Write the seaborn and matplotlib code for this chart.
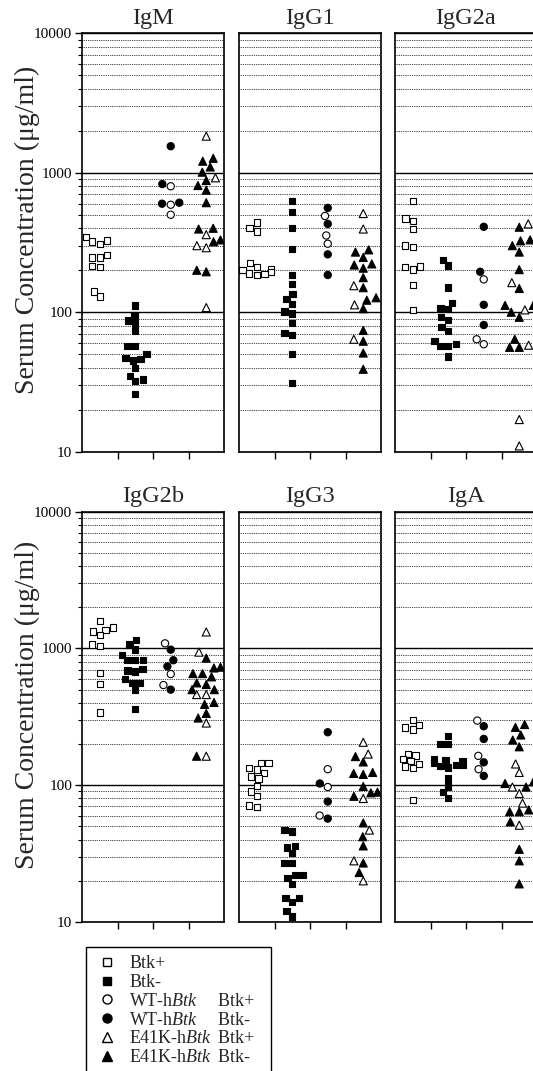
import warnings
warnings.filterwarnings("ignore")
import numpy as np
import pandas as pd
import matplotlib
matplotlib.use("Agg")
import matplotlib.pyplot as plt
import seaborn as sns
from matplotlib.ticker import FixedLocator, LogLocator, NullFormatter, FuncFormatter
from matplotlib.lines import Line2D

# ---------------- data (µg/ml) ----------------
panels = ["IgM", "IgG1", "IgG2a", "IgG2b", "IgG3", "IgA"]

igm_btk_pos = [326, 345, 310, 322, 247, 247, 258, 215, 210, 141, 130]
igm_btk_neg = [112, 95, 87, 84, 74, 57, 57, 50, 47, 46, 45, 40, 35, 33, 32, 26]
igm_wt_pos = [800, 590, 500]
igm_wt_neg = [1550, 830, 600, 610]
igm_e41k_pos = [1830, 920, 360, 300, 290, 108]
igm_e41k_neg = [1270, 1210, 1100, 1010, 880, 810, 750, 610, 400, 395, 330, 320, 195, 200]

igg1_btk_pos = [440, 400, 380, 225, 210, 205, 200, 200, 195, 190, 188, 185]
igg1_btk_neg = [630, 525, 400, 285, 185, 160, 135, 125, 115, 98, 101, 84, 71, 69, 50, 31]
igg1_wt_pos = [490, 355, 310]
igg1_wt_neg = [560, 430, 260, 185]
igg1_e41k_pos = [510, 395, 155, 113, 64]
igg1_e41k_neg = [270, 280, 247, 218, 222, 207, 177, 150, 122, 127, 106, 74, 62, 51, 39]

igg2a_btk_pos = [630, 470, 450, 395, 295, 300, 210, 213, 202, 157, 104]
igg2a_btk_neg = [236, 216, 150, 117, 107, 105, 92, 88, 78, 73, 59, 62, 57, 57, 48]
igg2a_wt_pos = [172, 64, 59]
igg2a_wt_neg = [410, 195, 113, 81]
igg2a_e41k_pos = [430, 163, 104, 58, 17, 11]
igg2a_e41k_neg = [407, 330, 325, 300, 270, 202, 148, 112, 112, 100, 92, 64, 56, 56]

igg2b_btk_pos = [1590, 1420, 1360, 1330, 1250, 1070, 1040, 660, 550, 340]
igg2b_btk_neg = [1150, 1070, 980, 900, 820, 820, 820, 710, 690, 680, 600, 560, 560, 500, 360]
igg2b_wt_pos = [1090, 650, 540]
igg2b_wt_neg = [980, 820, 740, 500]
igg2b_e41k_pos = [1320, 940, 460, 460, 285, 163]
igg2b_e41k_neg = [850, 730, 720, 655, 620, 655, 560, 545, 500, 500, 403, 390, 335, 310, 163]

igg3_btk_pos = [145, 145, 133, 130, 123, 116, 112, 99, 90, 83, 71, 69]
igg3_btk_neg = [47, 46, 36, 35, 32, 27, 27, 22, 22, 21, 19, 15, 15, 14, 12, 11]
igg3_wt_pos = [131, 97, 60]
igg3_wt_neg = [244, 103, 76, 57]
igg3_e41k_pos = [206, 169, 80, 47, 28, 20]
igg3_e41k_neg = [162, 148, 124, 120, 122, 98, 89, 83, 88, 53, 42, 36, 27, 23]

iga_btk_pos = [300, 275, 265, 255, 170, 165, 155, 150, 143, 137, 133, 78]
iga_btk_neg = [228, 200, 200, 150, 152, 155, 145, 142, 138, 140, 135, 112, 98, 89, 81]
iga_wt_pos = [297, 164, 131]
iga_wt_neg = [270, 218, 147, 117]
iga_e41k_pos = [143, 124, 97, 87, 74, 51]
iga_e41k_neg = [278, 265, 233, 214, 191, 106, 103, 97, 66, 64, 64, 54, 34, 28, 19]

group_cols = ["c1", "c2", "c3", "c4"]
tick_labels_y = [10, 100, 1000, 10000]

# ---------------- tidy table ----------------
series = {
    "IgM": [igm_btk_pos, igm_btk_neg, igm_wt_pos, igm_wt_neg, igm_e41k_pos, igm_e41k_neg],
    "IgG1": [igg1_btk_pos, igg1_btk_neg, igg1_wt_pos, igg1_wt_neg, igg1_e41k_pos, igg1_e41k_neg],
    "IgG2a": [igg2a_btk_pos, igg2a_btk_neg, igg2a_wt_pos, igg2a_wt_neg, igg2a_e41k_pos, igg2a_e41k_neg],
    "IgG2b": [igg2b_btk_pos, igg2b_btk_neg, igg2b_wt_pos, igg2b_wt_neg, igg2b_e41k_pos, igg2b_e41k_neg],
    "IgG3": [igg3_btk_pos, igg3_btk_neg, igg3_wt_pos, igg3_wt_neg, igg3_e41k_pos, igg3_e41k_neg],
    "IgA": [iga_btk_pos, iga_btk_neg, iga_wt_pos, iga_wt_neg, iga_e41k_pos, iga_e41k_neg],
}
slots = [("c1", "+"), ("c2", "-"), ("c3", "+"), ("c3", "-"), ("c4", "+"), ("c4", "-")]
rows = []
for pname, lists in series.items():
    for (col, state), vals in zip(slots, lists):
        for v in vals:
            rows.append({"panel": pname, "col": col, "state": state, "value": v})
df = pd.DataFrame(rows)

# ---------------- style ----------------
sns.set_style("ticks")
plt.rcParams["font.family"] = ["Liberation Serif", "DejaVu Serif"]
plt.rcParams["mathtext.fontset"] = "custom"
plt.rcParams["mathtext.rm"] = "Liberation Serif"
plt.rcParams["mathtext.it"] = "Liberation Serif:italic"
plt.rcParams["axes.edgecolor"] = "black"
plt.rcParams["xtick.color"] = "black"
plt.rcParams["ytick.color"] = "black"

W, H = 533, 1071
fig = plt.figure(figsize=(W / 100, H / 100), dpi=100)
fig.patch.set_facecolor("white")

lefts = [82, 239, 395]
pw = 142
row_box = [(33.3, 451.7), (511.7, 922.0)]
palette = {"+": "white", "-": "black"}
marker_groups = [("s", ["c1", "c2"], 4.6), ("o", ["c3"], 5.2), ("^", ["c4"], 5.8)]

for i, pname in enumerate(panels):
    r, c = divmod(i, 3)
    top, bot = row_box[r]
    ax = fig.add_axes([lefts[c] / W, 1 - bot / H, pw / W, (bot - top) / H])
    sub = df[df["panel"] == pname]
    for mk, cols, sz in marker_groups:
        d = sub[sub["col"].isin(cols)]
        sns.swarmplot(data=d, x="col", y="value", hue="state", order=group_cols,
                      hue_order=["+", "-"], palette=palette, marker=mk, size=sz,
                      edgecolor="black", linewidth=0.8, legend=False,
                      log_scale=True, ax=ax, zorder=3, warn_thresh=1)
    ax.set_xlim(-0.5, 3.5)
    ax.set_ylim(10, 10000)
    ax.set_xticks([0.5, 1.5, 2.5])
    ax.set_xticklabels([])
    ax.set_xlabel("")
    ax.set_ylabel("")
    ax.yaxis.set_major_locator(FixedLocator(tick_labels_y))
    ax.yaxis.set_major_formatter(FuncFormatter(lambda v, p: "%d" % v))
    ax.yaxis.set_minor_locator(LogLocator(base=10, subs=np.arange(2, 10)))
    ax.yaxis.set_minor_formatter(NullFormatter())
    ax.grid(False)
    ax.yaxis.grid(True, which="major", color="black", lw=1.0, ls="-")
    ax.yaxis.grid(True, which="minor", color="black", lw=0.6, ls=(0, (1, 1.2)))
    ax.set_axisbelow(True)
    for s in ax.spines.values():
        s.set_linewidth(1.2)
        s.set_color("black")
    ax.tick_params(axis="x", direction="out", length=5, width=1.0)
    if c == 0:
        ax.tick_params(axis="y", which="major", direction="out", length=5, width=1.0,
                       labelsize=11, pad=2)
        ax.tick_params(axis="y", which="minor", direction="out", length=3, width=0.8)
        ax.set_ylabel("Serum Concentration (\u03bcg/ml)", fontsize=20)
        ax.yaxis.label.set_verticalalignment("center")
        ax.yaxis.set_label_coords(-0.387, 0.53)
    else:
        ax.tick_params(axis="y", which="both", length=0, labelleft=False)
    ax.set_title(pname, fontsize=17.5, pad=7)

# ---------------- legend ----------------
def mk(m, fill, ms):
    return Line2D([], [], marker=m, ls="none", mfc=fill, mec="black", mew=1.0, ms=ms)

blank = Line2D([], [], ls="none", marker="")
handles = [mk("s", "white", 6), mk("s", "black", 6), mk("o", "white", 6.5),
           mk("o", "black", 6.5), mk("^", "white", 7), mk("^", "black", 7),
           blank, blank, blank, blank, blank, blank]
labels = ["Btk+", "Btk-", r"WT-h$\mathit{Btk}$", r"WT-h$\mathit{Btk}$",
          r"E41K-h$\mathit{Btk}$", r"E41K-h$\mathit{Btk}$",
          "", "", "Btk+\u2002", "Btk-\u2002", "Btk+\u2002", "Btk-\u2002"]
leg = fig.legend(handles, labels, ncol=2, loc="upper left",
                 bbox_to_anchor=(86 / W, 1 - 947 / H), frameon=True, fancybox=False,
                 edgecolor="black", framealpha=1, fontsize=13, handlelength=1.4,
                 handletextpad=0.54, columnspacing=-1.65, labelspacing=0.1,
                 borderpad=0.45, borderaxespad=0)
leg.get_frame().set_linewidth(1.0)

fig.savefig("out.png", dpi=100, facecolor="white")
